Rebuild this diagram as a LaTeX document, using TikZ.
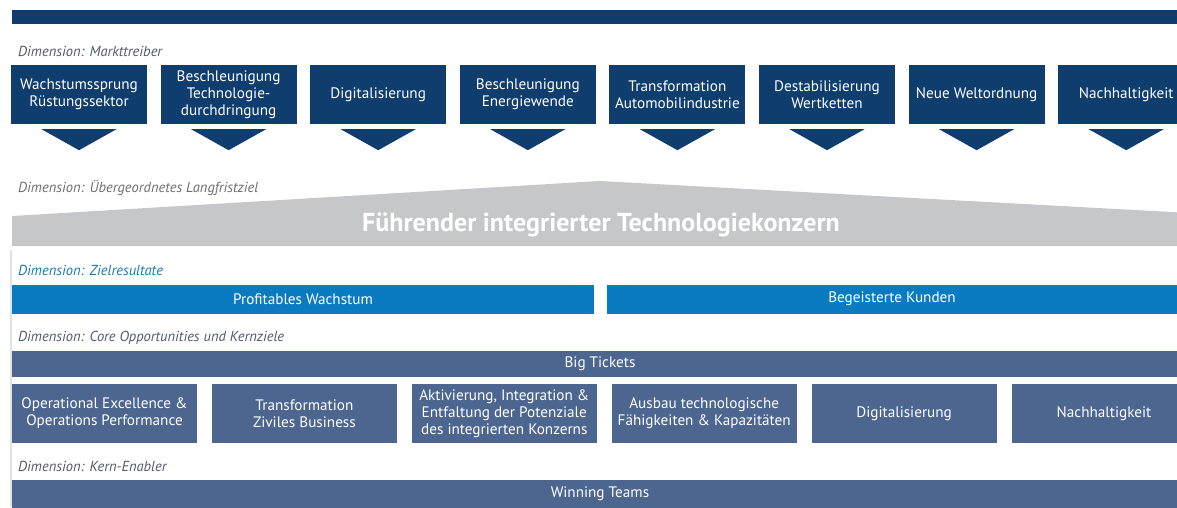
\documentclass[tikz,border=0pt]{standalone}
\usepackage{fontspec}
\setmainfont{PT Sans}
\usetikzlibrary{positioning}
\definecolor{navy}{HTML}{0E3D6E}
\definecolor{slate}{HTML}{4C6690}
\definecolor{zielblau}{HTML}{0A7BC1}
\definecolor{leitgrau}{HTML}{C6C7C8}
\definecolor{dimgrau}{HTML}{4F5B6B}
\definecolor{dimhell}{HTML}{6E6E6E}
\definecolor{dimblau}{HTML}{1A78B0}
\definecolor{randgrau}{HTML}{E2E2E2}
\tikzset{
  driverbox/.style={fill=navy,text=white,minimum width=136pt,minimum height=59pt,
    inner sep=0pt,align=center,font=\fontsize{15.2}{17}\selectfont},
  goalbox/.style={fill=slate,text=white,minimum width=185pt,minimum height=59pt,
    inner sep=0pt,align=center,font=\fontsize{15.2}{17}\selectfont},
  barbox/.style={text=white,minimum height=27pt,inner sep=0pt,
    font=\fontsize{15.2}{17}\selectfont},
  dimlabel/.style={anchor=west,inner sep=0pt,font=\fontsize{14.5}{16}\selectfont\itshape},
  pfeil/.style={fill=navy}
}
\begin{document}
\begin{tikzpicture}[x=1pt,y=-1pt,node distance=13.2pt]
 \useasboundingbox (0,0) rectangle (1177,507);
 \fill[navy] (12,10) rectangle (1190,24);
 \draw[randgrau,line width=1.2pt] (11,250) -- (11,507);
 % Markttreiber
 \node[dimlabel,text=dimgrau] (dimA) at (18,51) {Dimension: Markttreiber};
 \node[driverbox] (d1) at (79,94.5) {Wachstumssprung\\Rüstungssektor};
 \node[driverbox,right=of d1] (d2) {Beschleunigung\\Technologie-\\durchdringung};
 \node[driverbox,right=of d2] (d3) {Digitalisierung};
 \node[driverbox,right=of d3] (d4) {Beschleunigung\\Energiewende};
 \node[driverbox,right=of d4] (d5) {Transformation\\Automobilindustrie};
 \node[driverbox,right=of d5] (d6) {Destabilisierung\\Wertketten};
 \node[driverbox,right=of d6] (d7) {Neue Weltordnung};
 \node[driverbox,right=of d7] (d8) {Nachhaltigkeit};
 \foreach \n in {d1,d2,d3,d4,d5,d6,d7,d8}
   \fill[pfeil] (\n.south) ++(-37.5,5) -- ++(75,0) -- ++(-37.5,21) -- cycle;
 % Langfristziel
 \node[dimlabel,text=dimhell] (dimB) at (18,188) {Dimension: Übergeordnetes Langfristziel};
 \fill[leitgrau] (12,246) -- (12,216) -- (600,181) -- (1190,213) -- (1190,246) -- cycle;
 \node[text=white,inner sep=0pt,font=\fontsize{26}{30}\selectfont\bfseries] (ziel) at (601,225)
   {Führender integrierter Technologiekonzern};
 % Zielresultate
 \node[dimlabel,text=dimblau] (dimC) at (18,270) {Dimension: Zielresultate};
 \node[barbox,fill=zielblau,minimum width=582pt,minimum height=29pt] (wachstum) at (303,299)
   {Profitables Wachstum};
 \node[barbox,fill=zielblau,minimum width=570pt,minimum height=29pt] (kunden) at (892,299)
   {Begeisterte Kunden};
 % Core Opportunities
 \node[dimlabel,text=dimgrau] (dimD) at (18,338) {Dimension: Core Opportunities und Kernziele};
 \node[barbox,fill=slate,minimum width=1176pt,minimum height=26pt] (tickets) at (600,364)
   {Big Tickets};
 \node[goalbox] (k1) at (104.5,413.5) {Operational Excellence \&\\Operations Performance};
 \node[goalbox,right=14.5pt of k1] (k2) {Transformation\\Ziviles Business};
 \node[goalbox,right=14.5pt of k2] (k3) {Aktivierung, Integration \&\\Entfaltung der Potenziale\\des integrierten Konzerns};
 \node[goalbox,right=14.5pt of k3] (k4) {Ausbau technologische\\Fähigkeiten \& Kapazitäten};
 \node[goalbox,right=14.5pt of k4] (k5) {Digitalisierung};
 \node[goalbox,right=14.5pt of k5] (k6) {Nachhaltigkeit};
 % Kern-Enabler
 \node[dimlabel,text=dimgrau] (dimE) at (18,466) {Dimension: Kern-Enabler};
 \node[barbox,fill=slate,minimum width=1176pt,minimum height=28pt] (teams) at (600,494)
   {Winning Teams};
\end{tikzpicture}
\end{document}
